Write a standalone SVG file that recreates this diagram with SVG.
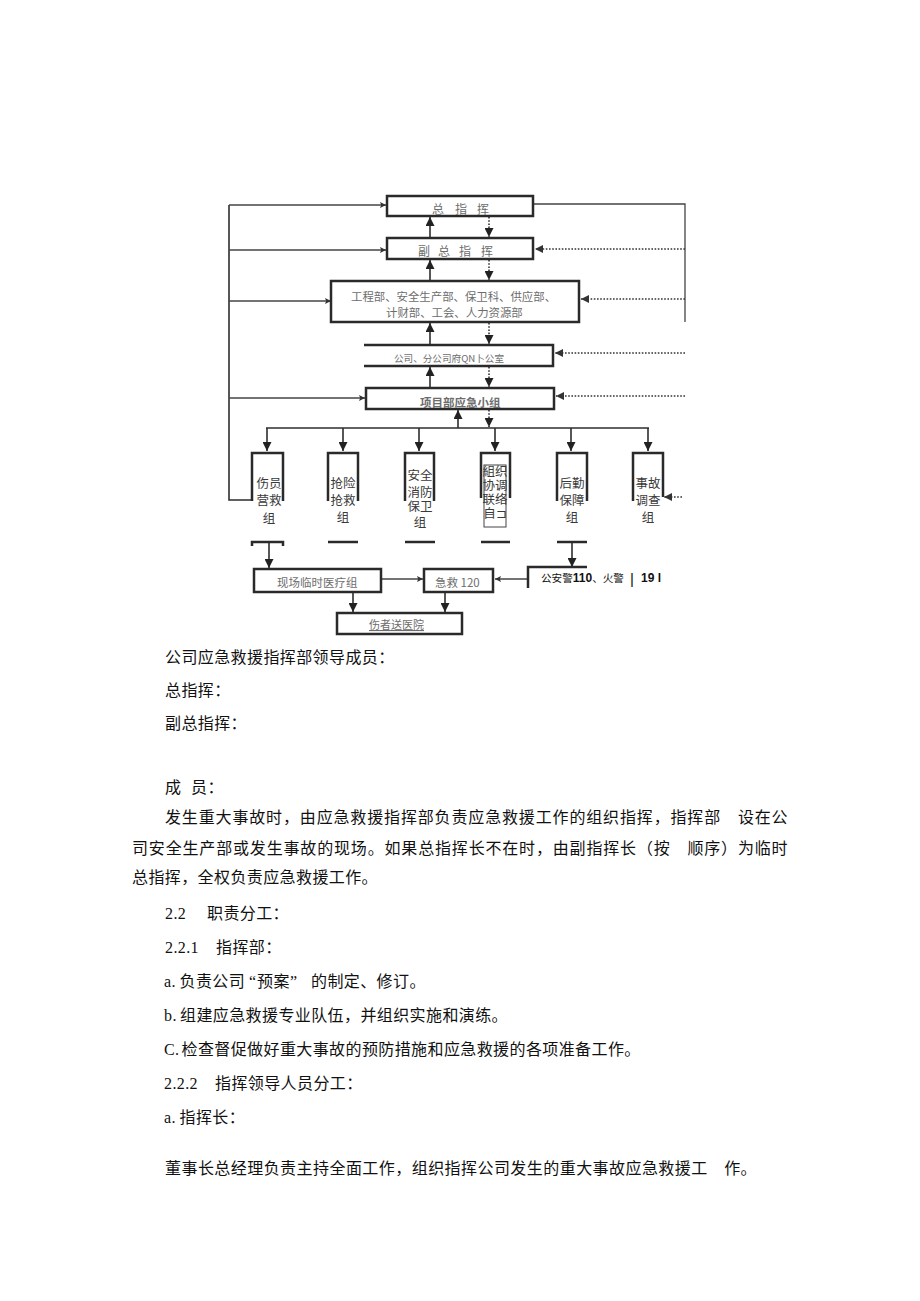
<svg xmlns="http://www.w3.org/2000/svg" width="920" height="1301" viewBox="0 0 920 1301">
<style>
.bx{fill:none;stroke:#2a2a2a;stroke-width:2.5}
.ib{fill:none;stroke:#444;stroke-width:1}
.ln{fill:none;stroke:#2e2e2e;stroke-width:1.6}
.lt{fill:none;stroke:#444;stroke-width:1.3}
.dt{fill:none;stroke:#333;stroke-width:1.6;stroke-dasharray:1.6 1.6}
.lb{font-family:"Noto Sans CJK SC",sans-serif;fill:#6d6d6d}
.gp{font-family:"Noto Sans CJK SC",sans-serif;font-size:12.5px;fill:#3a3a3a;text-anchor:middle}
.bd{font-family:"Liberation Serif","Noto Sans CJK SC",serif;font-size:16px;fill:#111;letter-spacing:0.4px}
</style>
<defs>
<marker id="a" viewBox="0 0 10 10" refX="10" refY="5" markerWidth="9" markerHeight="9" markerUnits="userSpaceOnUse" orient="auto"><path d="M0,0 L10,5 L0,10 z" fill="#222"/></marker>
<marker id="s" viewBox="0 0 10 10" refX="10" refY="5" markerWidth="9" markerHeight="6" markerUnits="userSpaceOnUse" orient="auto"><path d="M0,0 L10,5 L0,10 L2,5 z" fill="#333"/></marker>
<marker id="d" viewBox="0 0 10 10" refX="10" refY="5" markerWidth="9" markerHeight="8" markerUnits="userSpaceOnUse" orient="auto"><path d="M0,0 L10,5 L0,10 z" fill="#333"/></marker>
</defs>

<g id="connectors">
<path class="ln" d="M229,205 V500 H252"/>
<line class="lt" x1="229" y1="205" x2="386" y2="205" marker-end="url(#s)"/>
<line class="lt" x1="229" y1="250" x2="386" y2="250" marker-end="url(#s)"/>
<line class="lt" x1="229" y1="301" x2="331" y2="301" marker-end="url(#s)"/>
<line class="lt" x1="229" y1="398" x2="365" y2="398" marker-end="url(#s)"/>
<path class="lt" d="M534,204 H685 V322"/>
<line class="dt" x1="685" y1="249" x2="535" y2="249" marker-end="url(#d)"/>
<line class="dt" x1="685" y1="299" x2="581" y2="299" marker-end="url(#d)"/>
<line class="dt" x1="685" y1="353" x2="555" y2="353" marker-end="url(#d)"/>
<line class="dt" x1="685" y1="396" x2="556" y2="396" marker-end="url(#d)"/>
<line class="dt" x1="682" y1="497" x2="664" y2="497" marker-end="url(#d)"/>
<line class="ln" x1="430" y1="237" x2="430" y2="217" marker-end="url(#a)"/>
<line class="ln" x1="430" y1="280" x2="430" y2="260" marker-end="url(#a)"/>
<line class="ln" x1="430" y1="344" x2="430" y2="323" marker-end="url(#a)"/>
<line class="ln" x1="430" y1="387" x2="430" y2="367" marker-end="url(#a)"/>
<line class="ln" x1="458" y1="428" x2="458" y2="410" marker-end="url(#a)"/>
<line class="dt" x1="489" y1="217" x2="489" y2="237" marker-end="url(#a)"/>
<line class="dt" x1="489" y1="260" x2="489" y2="280" marker-end="url(#a)"/>
<line class="dt" x1="489" y1="323" x2="489" y2="344" marker-end="url(#a)"/>
<line class="dt" x1="489" y1="367" x2="489" y2="387" marker-end="url(#a)"/>
<line class="dt" x1="489" y1="410" x2="489" y2="427" marker-end="url(#a)"/>
<line class="ln" x1="266" y1="428" x2="649" y2="428"/>
<line class="ln" x1="267" y1="428" x2="267" y2="451" marker-end="url(#a)"/>
<line class="ln" x1="343" y1="428" x2="343" y2="451" marker-end="url(#a)"/>
<line class="ln" x1="419" y1="428" x2="419" y2="451" marker-end="url(#a)"/>
<line class="ln" x1="495" y1="428" x2="495" y2="451" marker-end="url(#a)"/>
<line class="ln" x1="571" y1="428" x2="571" y2="451" marker-end="url(#a)"/>
<line class="ln" x1="648" y1="428" x2="648" y2="451" marker-end="url(#a)"/>
<line class="ln" x1="269" y1="543" x2="269" y2="568" marker-end="url(#a)"/>
<line class="ln" x1="572" y1="543" x2="572" y2="567" marker-end="url(#a)"/>
<line class="lt" x1="382" y1="579" x2="423" y2="579" marker-end="url(#s)"/>
<line class="lt" x1="528" y1="579" x2="495" y2="579" marker-end="url(#s)"/>
<line class="ln" x1="353" y1="592" x2="353" y2="612" marker-end="url(#a)"/>
<line class="ln" x1="445" y1="592" x2="445" y2="612" marker-end="url(#a)"/>
</g>

<g id="n-zongzhihui">
<rect class="bx" x="387" y="196" width="146" height="20"/>
<text class="lb" font-size="12" y="214"><tspan x="432">总</tspan><tspan x="455">指</tspan><tspan x="477">挥</tspan></text>
</g>
<g id="n-fuzongzhihui">
<rect class="bx" x="387" y="238" width="146" height="21"/>
<text class="lb" font-size="12" y="256"><tspan x="418">副</tspan><tspan x="438">总</tspan><tspan x="459">指</tspan><tspan x="481">挥</tspan></text>
</g>
<g id="n-bumen">
<rect class="bx" x="331" y="281" width="248" height="41"/>
<text class="lb" font-size="11.4" x="351" y="301" fill="#555">工程部、安全生产部、保卫科、供应部、</text>
<text class="lb" font-size="11.4" x="386" y="317" fill="#555">计财部、工会、人力资源部</text>
</g>
<g id="n-gongsi">
<path class="bx" d="M364,345 H553 V366 H364"/>
<text class="lb" font-size="9.6" x="394" y="362" fill="#555">公司、分公司府QN卜公室</text>
</g>
<g id="n-xiangmubu">
<rect class="bx" x="366" y="388" width="188" height="21"/>
<text class="lb" font-size="11.5" x="420" y="407" font-weight="bold" fill="#808080">项目部应急小组</text>
</g>

<g id="g-shangyuan">
<path class="bx" d="M252,501 V453 H283 V501"/>
<path class="bx" d="M252,546 V542 H283 V546"/>
<text class="gp"><tspan x="269" y="488">伤员</tspan><tspan x="269" y="505">营救</tspan><tspan x="269" y="523">组</tspan></text>
</g>
<g id="g-qiangxian">
<path class="bx" d="M328,501 V453 H358 V501"/>
<line class="bx" x1="328" y1="542" x2="358" y2="542"/>
<text class="gp"><tspan x="343" y="488">抢险</tspan><tspan x="343" y="505">抢救</tspan><tspan x="343" y="522">组</tspan></text>
</g>
<g id="g-anquan">
<path class="bx" d="M405,501 V453 H434 V501"/>
<line class="bx" x1="405" y1="542" x2="435" y2="542"/>
<text class="gp"><tspan x="420" y="480">安全</tspan><tspan x="420" y="497">消防</tspan><tspan x="420" y="511">保卫</tspan><tspan x="420" y="527">组</tspan></text>
</g>
<g id="g-zuzhi">
<path class="bx" d="M481,498 V453 H510 V498"/>
<rect class="ib" x="484" y="465" width="22" height="62"/>
<text class="gp" font-size="8"><tspan x="495" y="476">組织</tspan><tspan x="495" y="490">协调</tspan><tspan x="495" y="504">联络</tspan><tspan x="495" y="518">自⊐</tspan></text>
<line class="bx" x1="481" y1="542" x2="510" y2="542"/>
</g>
<g id="g-houqin">
<path class="bx" d="M557,501 V453 H587 V501"/>
<line class="bx" x1="557" y1="542" x2="587" y2="542"/>
<text class="gp"><tspan x="572" y="488">后勤</tspan><tspan x="572" y="505">保障</tspan><tspan x="572" y="522">组</tspan></text>
</g>
<g id="g-shigu">
<path class="bx" d="M633,501 V453 H663 V497"/>
<text class="gp"><tspan x="648" y="488">事故</tspan><tspan x="648" y="505">调查</tspan><tspan x="648" y="522">组</tspan></text>
</g>

<g id="n-xianchang">
<rect class="bx" x="254" y="569" width="127" height="23"/>
<text class="lb" font-size="11.5" x="277" y="587" fill="#777">现场临时医疗组</text>
</g>
<g id="n-jijiu">
<rect class="bx" x="424" y="569" width="69" height="23"/>
<text class="lb" font-size="11.5" x="435" y="587" fill="#777">急救 120</text>
</g>
<g id="n-gongan">
<path class="bx" d="M587,567 H528 V588"/>
<text y="582" font-family="Noto Sans CJK SC,sans-serif" font-size="10.6" fill="#111"><tspan x="541">公安警</tspan><tspan font-family="Liberation Sans" font-weight="bold" font-size="12">110</tspan><tspan>、火警</tspan><tspan x="630" font-family="Liberation Sans" font-size="15" y="584">|</tspan><tspan x="641" y="582" font-family="Liberation Sans" font-weight="bold" font-size="12">19 l</tspan></text>
</g>
<g id="n-shangzhe">
<rect class="bx" x="337" y="613" width="125" height="21"/>
<text class="lb" font-size="11" x="369" y="629" fill="#666" text-decoration="underline">伤者送医院</text>
</g>

<g id="body-text">
<text class="bd" x="165" y="663">公司应急救援指挥部领导成员：</text>
<text class="bd" x="165" y="696">总指挥：</text>
<text class="bd" x="165" y="729">副总指挥：</text>
<text class="bd" y="793"><tspan x="165">成</tspan><tspan x="191">员：</tspan></text>
<text class="bd" x="165" y="823" textLength="623" lengthAdjust="spacing">发生重大事故时，由应急救援指挥部负责应急救援工作的组织指挥，指挥部　设在公</text>
<text class="bd" x="132" y="854" textLength="656" lengthAdjust="spacing">司安全生产部或发生事故的现场。如果总指挥长不在时，由副指挥长（按　顺序）为临时</text>
<text class="bd" x="132" y="883">总指挥，全权负责应急救援工作。</text>
<text class="bd" y="919"><tspan x="165">2.2</tspan><tspan x="207">职责分工：</tspan></text>
<text class="bd" y="953"><tspan x="165">2.2.1</tspan><tspan x="216">指挥部：</tspan></text>
<text class="bd" y="987"><tspan x="164">a.</tspan><tspan x="179.5">负责公司</tspan><tspan x="249">“</tspan><tspan x="257">预案</tspan><tspan x="290">”</tspan><tspan x="311">的制定、修订。</tspan></text>
<text class="bd" y="1021"><tspan x="164">b.</tspan><tspan x="180">组建应急救援专业队伍，并组织实施和演练。</tspan></text>
<text class="bd" y="1055"><tspan x="164">C.</tspan><tspan x="181.5">检查督促做好重大事故的预防措施和应急救援的各项准备工作。</tspan></text>
<text class="bd" y="1089"><tspan x="164">2.2.2</tspan><tspan x="215">指挥领导人员分工：</tspan></text>
<text class="bd" y="1123"><tspan x="164">a.</tspan><tspan x="179.5">指挥长：</tspan></text>
<text class="bd" x="165" y="1174" textLength="592" lengthAdjust="spacing">董事长总经理负责主持全面工作，组织指挥公司发生的重大事故应急救援工　作。</text>
</g>
</svg>
